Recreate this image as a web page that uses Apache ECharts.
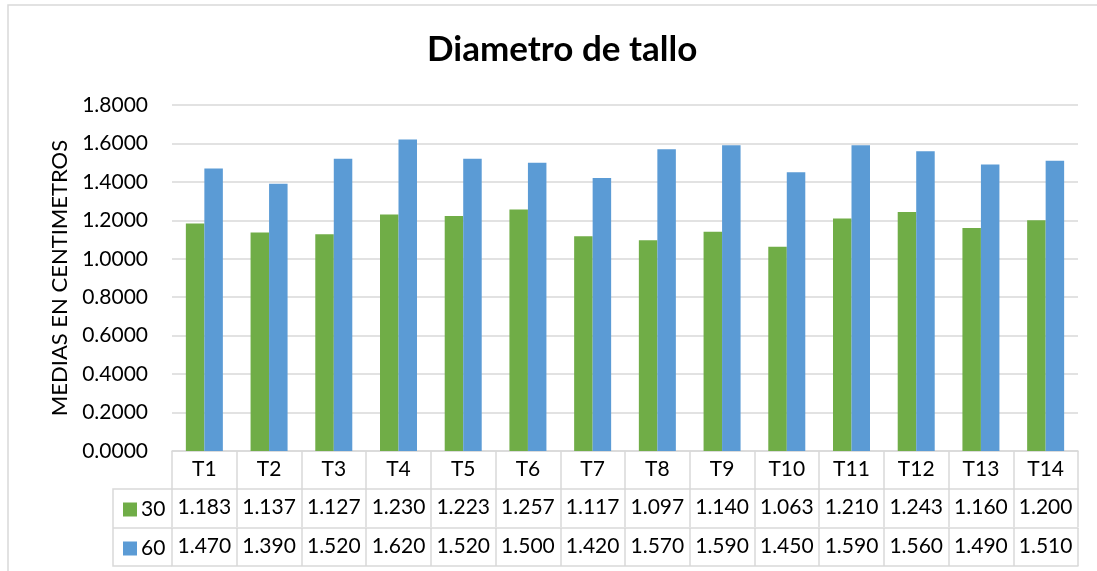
<!DOCTYPE html>
<html>
<head>
<meta charset="utf-8">
<script src="https://cdn.jsdelivr.net/npm/echarts@6/dist/echarts.min.js"></script>
<style>
  html, body { margin: 0; padding: 0; background: #fff; }
  #chart { width: 1097px; height: 571px; }
</style>
</head>
<body>
<div id="chart"></div>
<script>
var categories = ['T1', 'T2', 'T3', 'T4', 'T5', 'T6', 'T7', 'T8', 'T9', 'T10', 'T11', 'T12', 'T13', 'T14']
var serie30 = [1.183, 1.137, 1.127, 1.230, 1.223, 1.257, 1.117, 1.097, 1.140, 1.063, 1.210, 1.243, 1.160, 1.200]
var serie60 = [1.470, 1.390, 1.520, 1.620, 1.520, 1.500, 1.420, 1.570, 1.590, 1.450, 1.590, 1.560, 1.490, 1.510]
var seriesNames = ['30', '60']
var yTicks = [0, 0.2, 0.4, 0.6, 0.8, 1.0, 1.2, 1.4, 1.6, 1.8]

var FONT = 'Lato, "Open Sans", sans-serif'
var LINE = '#d9d9d9'
var ROW = 38

// each row of the data table is one more category axis under the plot
function tableAxis(data, offset, showLabels) {
  return {
    type: 'category',
    position: 'bottom',
    offset: offset,
    data: data,
    axisLine: { show: true, lineStyle: { color: LINE, width: 1.5 } },
    axisTick: { show: showLabels, length: ROW, interval: 0, lineStyle: { color: LINE, width: 1.5 } },
    axisLabel: { show: showLabels, interval: 0, margin: 8, color: '#000', fontSize: 21, fontFamily: FONT }
  }
}

var chart = echarts.init(document.getElementById('chart'))

chart.setOption({
  animation: false,
  title: {
    text: 'Diametro de tallo',
    left: 422,
    top: 27,
    textStyle: { fontSize: 35, fontWeight: 'bold', color: '#000', fontFamily: FONT }
  },
  legend: {
    data: seriesNames,
    orient: 'vertical',
    left: 118,
    top: 494,
    itemWidth: 14,
    itemHeight: 14,
    itemGap: 18,
    icon: 'rect',
    textStyle: { fontSize: 21, color: '#000', fontFamily: FONT, padding: [0, 0, 0, -1] }
  },
  grid: { left: 172, right: 19, top: 105, bottom: 120 },
  xAxis: [
    tableAxis(categories, 0, true),
    tableAxis(serie30.map(function (v) { return v.toFixed(3) }), ROW, true),
    tableAxis(serie60.map(function (v) { return v.toFixed(3) }), ROW * 2 + 1, true),
    tableAxis(categories, ROW * 3 + 1, false)
  ],
  yAxis: {
    type: 'value',
    min: yTicks[0],
    max: yTicks[yTicks.length - 1],
    interval: 0.2,
    name: 'MEDIAS EN CENTIMETROS',
    nameLocation: 'middle',
    nameGap: 95,
    nameTextStyle: { fontSize: 22, color: '#000', fontFamily: FONT },
    axisLine: { show: false },
    axisTick: { show: false },
    axisLabel: {
      margin: 24,
      color: '#000',
      fontSize: 21,
      fontFamily: FONT,
      formatter: function (v) { return v.toFixed(4) }
    },
    splitLine: { lineStyle: { color: LINE, width: 1.5 } }
  },
  series: [
    {
      name: seriesNames[0],
      type: 'bar',
      xAxisIndex: 0,
      data: serie30,
      barWidth: 18.5,
      barGap: '0%',
      itemStyle: { color: '#70ad47' }
    },
    {
      name: seriesNames[1],
      type: 'bar',
      xAxisIndex: 0,
      data: serie60,
      barWidth: 18.5,
      barGap: '0%',
      itemStyle: { color: '#5b9bd5' }
    }
  ],
  graphic: [
    // chart frame
    { type: 'rect', silent: true, shape: { x: 8, y: 5, width: 1100, height: 620 },
      style: { fill: 'none', stroke: LINE, lineWidth: 1.5 } },
    // legend column of the data table
    { type: 'polyline', silent: true,
      shape: { points: [[172, 489], [113, 489], [113, 566], [172, 566]] },
      style: { fill: 'none', stroke: LINE, lineWidth: 1.5 } },
    { type: 'line', silent: true, shape: { x1: 113, y1: 528, x2: 172, y2: 528 },
      style: { stroke: LINE, lineWidth: 1.5 } }
  ]
})
</script>
</body>
</html>
